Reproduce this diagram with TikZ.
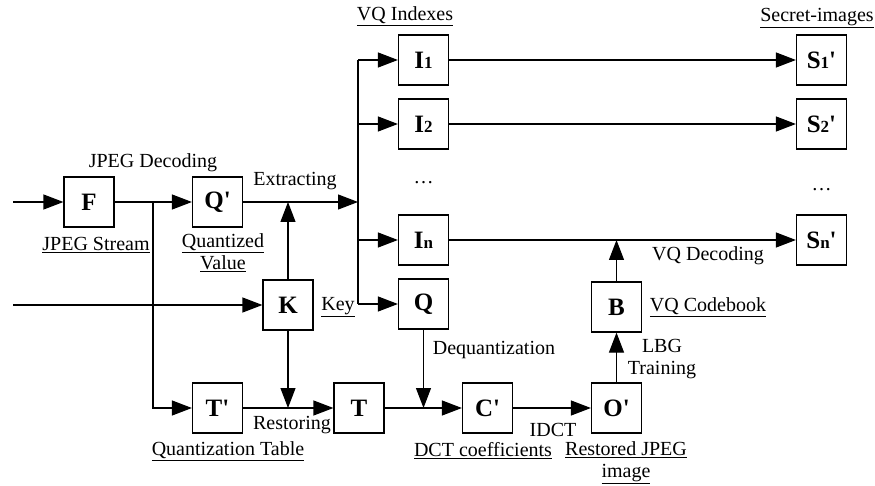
\documentclass[tikz,border=0pt]{standalone}
\usepackage{fontspec}
\setmainfont{Liberation Serif}
\usetikzlibrary{positioning,arrows.meta}

\newcommand{\smallidx}[1]{{\fontsize{17}{17}\selectfont #1}}
\newcommand{\pr}{\textquotesingle}

\begin{document}
\begin{tikzpicture}[x=1pt, y=-1pt,
  box/.style={draw, line width=1.2pt, minimum size=50pt, inner sep=0pt, font=\bfseries\fontsize{25}{25}\selectfont},
  lbl/.style={font=\fontsize{20}{22}\selectfont, inner sep=1pt, align=center},
  arr/.style={-{Triangle[length=20pt, width=15pt]}, line width=1.2pt},
  ln/.style={line width=1.2pt}
]
\useasboundingbox (0,0) rectangle (875,486);

% boxes
\node[box] (F) at (89,202) {F};
\node[box] (Qp) at (217.5,202) {Q\pr};
\node[box] (K) at (288,305) {K};
\node[box] (Tp) at (217.5,408) {T\pr};
\node[box] (T) at (359,408) {T};
\node[box] (I1) at (423.5,60) {I\smallidx{1}};
\node[box] (I2) at (423.5,124) {I\smallidx{2}};
\node[box] (In) at (423.5,240) {I\smallidx{n}};
\node[box] (Q) at (423.5,304) {Q};
\node[box] (Cp) at (487.5,408) {C\pr};
\node[box] (Op) at (616.5,408) {O\pr};
\node[box] (B) at (616.5,307) {B};
\node[box] (S1) at (821.5,60) {S\smallidx{1}\pr};
\node[box] (S2) at (821.5,124) {S\smallidx{2}\pr};
\node[box] (Sn) at (821.5,240) {S\smallidx{n}\pr};
\node[lbl] (dots1) at (423.5,183) {\ldots};
\node[lbl] (dots2) at (821.5,190) {\ldots};

% junctions
\coordinate (in1) at (13,202);
\coordinate (in2) at (13,305);
\coordinate (j1) at (153,202);
\coordinate (ex) at (358,202);
\coordinate (extop) at (358,60);
\coordinate (exbot) at (358,304);
\coordinate (kup) at (288,202);
\coordinate (kdn) at (288,408);
\coordinate (qdn) at (423.5,408);
\coordinate (bup) at (616.5,240);

% labels
\node[lbl] (decl) at (153,163) {JPEG Decoding};
\node[lbl] (extl) at (295,181) {Extracting};
\node[lbl] (strl) at (96,245) {\underline{JPEG Stream}};
\node[lbl] (qvl) at (223,253) {\underline{Quantized}\\\underline{Value}};
\node[lbl] (vqil) at (405,16) {\underline{VQ Indexes}};
\node[lbl] (secl) at (817,18) {\underline{Secret-images}};
\node[lbl] (keyl) at (338,307) {\underline{Key}};
\node[lbl] (deql) at (494,350) {Dequantization};
\node[lbl] (vqdl) at (708,256) {VQ Decoding};
\node[lbl] (vqcl) at (708,307) {\underline{VQ Codebook}};
\node[lbl] (lbgl) at (662,359) {LBG\\Training};
\node[lbl] (resl) at (292,425) {Restoring};
\node[lbl] (qtl) at (228,451) {\underline{Quantization Table}};
\node[lbl] (idctl) at (553,430) {IDCT};
\node[lbl] (dctl) at (483,451) {\underline{DCT coefficients}};
\node[lbl] (rjl) at (626,463) {\underline{Restored JPEG}\\\underline{image}};

% connectors
\draw[arr] (in1) -- (F);
\draw[arr] (F) -- (Qp);
\draw[arr] (j1) |- (Tp);
\draw[arr] (Qp) -- (ex);
\draw[ln] (extop) -- (exbot);
\draw[arr] (extop) -- (I1);
\draw[arr] (358,124) -- (I2);
\draw[arr] (358,240) -- (In);
\draw[arr] (exbot) -- (Q);
\draw[arr] (in2) -- (K);
\draw[arr] (K) -- (kup);
\draw[arr] (K) -- (kdn);
\draw[arr] (Tp) -- (T);
\draw[arr] (T) -- (Cp);
\draw[arr] (Q) -- (qdn);
\draw[arr] (Cp) -- (Op);
\draw[arr] (Op) -- (B);
\draw[arr] (B) -- (bup);
\draw[arr] (I1) -- (S1);
\draw[arr] (I2) -- (S2);
\draw[arr] (In) -- (Sn);
\end{tikzpicture}
\end{document}
